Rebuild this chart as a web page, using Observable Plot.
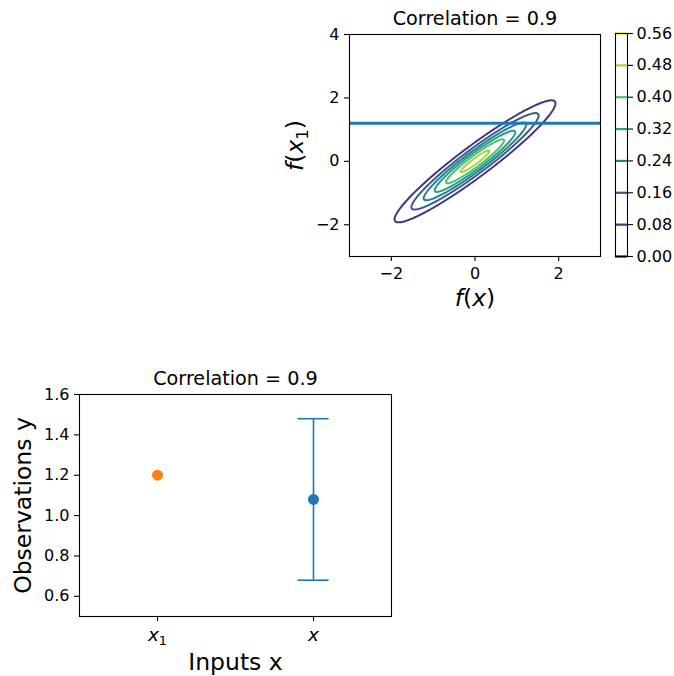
<!DOCTYPE html>
<html><head><meta charset="utf-8">
<script src="https://cdn.jsdelivr.net/npm/d3@7"></script>
<script src="https://cdn.jsdelivr.net/npm/@observablehq/plot@0.6"></script>
<style>
body{margin:0;background:#fff;}
#wrap{position:relative;width:674px;height:676px;font-family:"DejaVu Sans";background:#fff;}
#wrap > svg{position:absolute;margin:0;overflow:visible;}
</style></head><body><div id="wrap"></div>
<script>
// ---- data ----
const titleText = "Correlation = 0.9";
const contourLevels = [0, 0.08, 0.16, 0.24, 0.32, 0.40, 0.48, 0.56];
const fxDomain = [-3, 3];
const fx1Domain = [-3, 4];
const fxTicks = [-2, 0, 2];
const fx1Ticks = [-2, 0, 2, 4];
const densityMean = [0, 0];
const densityStd = [1, 1];
const densityCorr = 0.95;
const observedValue = [1.2];
const inputNames = ["x₁", "x"];
const inputPositions = [0, 1];
const obsMean = [1.2, 1.08];
const obsErr = [0, 0.4];
const obsColor = ["#ff7f0e", "#1f77b4"];
const obsTicks = [0.6, 0.8, 1.0, 1.2, 1.4, 1.6];

const obs = inputPositions.map((p, i) => ({pos: p, mean: obsMean[i], err: obsErr[i], color: obsColor[i]}));

function density(x, y) {
  const [mx, my] = densityMean, [sx, sy] = densityStd, r = densityCorr;
  const u = (x - mx) / sx, v = (y - my) / sy;
  const q = (u * u - 2 * r * u * v + v * v) / (1 - r * r);
  return Math.exp(-q / 2) / (2 * Math.PI * sx * sy * Math.sqrt(1 - r * r));
}

const TICK = 16, MATHTICK = 18.5, TITLE = 19.2, LABEL = 23.5;
const baseStyle = {fontFamily: "DejaVu Sans", fontSize: TICK + "px", color: "black", background: "transparent", overflow: "visible"};
const fmtNum = d => String(d).replace("-", "\u2212");
const wrap = document.getElementById("wrap");
function place(svg, left, top) { svg.style.left = left + "px"; svg.style.top = top + "px"; wrap.appendChild(svg); }

// math-style text: italic letters, upright digits/parens, subscript digits
const mathParts = {
  "f(x)": [["f", "i"], ["(", ""], ["x", "i"], [")", ""]],
  "f(x₁)": [["f", "i"], ["(", ""], ["x", "i"], ["1", "sub"], [")", ""]],
  "x₁": [["x", "i"], ["1", "sub"]],
  "x": [["x", "i"]]
};
function richify(svg) {
  svg.querySelectorAll("text").forEach(t => {
    const parts = mathParts[t.textContent];
    if (!parts) return;
    const fs = parseFloat(getComputedStyle(t).fontSize) || TICK;
    t.textContent = "";
    let shifted = false;
    parts.forEach(([s, kind]) => {
      const ts = document.createElementNS("http://www.w3.org/2000/svg", "tspan");
      ts.textContent = s;
      ts.setAttribute("font-style", kind === "i" ? "italic" : "normal");
      if (kind === "sub") { ts.setAttribute("font-size", (fs * 0.7) + "px"); ts.setAttribute("dy", (fs * 0.22) + "px"); shifted = true; }
      else if (shifted) { ts.setAttribute("dy", (-fs * 0.22) + "px"); shifted = false; }
      t.appendChild(ts);
    });
  });
}

// ---- top: contour ----
const topPlot = Plot.plot({
  width: 340, height: 320, marginLeft: 79, marginRight: 10, marginTop: 34, marginBottom: 64,
  x: {domain: fxDomain}, y: {domain: fx1Domain},
  color: {type: "linear", domain: [contourLevels[0], contourLevels[contourLevels.length - 1]], scheme: "viridis"},
  style: baseStyle,
  marks: [
    Plot.contour({value: density, x1: fxDomain[0], x2: fxDomain[1], y1: fx1Domain[0], y2: fx1Domain[1],
      thresholds: contourLevels.slice(1, -1), stroke: "value", fill: "none", strokeWidth: 2, pixelSize: 1}),
    Plot.ruleY(observedValue, {stroke: "#1f77b4", strokeWidth: 3}),
    Plot.frame({stroke: "black", strokeWidth: 1.1}),
    Plot.axisX({ticks: fxTicks, tickFormat: fmtNum, tickSize: 5, tickPadding: 6, label: null, fontSize: TICK, strokeWidth: 1.1}),
    Plot.axisY({ticks: fx1Ticks, tickFormat: fmtNum, tickSize: 5, tickPadding: 5, label: null, fontSize: TICK, strokeWidth: 1.1}),
    Plot.text([titleText], {frameAnchor: "top", dy: -10, lineAnchor: "bottom", fontSize: TITLE}),
    Plot.text(["f(x)"], {frameAnchor: "bottom", dy: 42, lineAnchor: "middle", fontSize: LABEL}),
    Plot.text(["f(x₁)"], {frameAnchor: "left", dx: -54, rotate: -90, textAnchor: "middle", lineAnchor: "middle", fontSize: LABEL})
  ]
});
place(topPlot, 270, 0);
richify(topPlot);

// ---- colorbar ----
const cbar = Plot.plot({
  width: 74, height: 320, marginLeft: 15, marginRight: 47, marginTop: 33, marginBottom: 64,
  x: {domain: [0, 1], axis: null},
  y: {domain: [contourLevels[0], contourLevels[contourLevels.length - 1]]},
  color: {type: "linear", domain: [contourLevels[0], contourLevels[contourLevels.length - 1]], scheme: "viridis"},
  style: baseStyle,
  marks: [
    Plot.ruleY(contourLevels, {y: d => d, stroke: d => d, strokeWidth: 2.2}),
    Plot.frame({stroke: "black", strokeWidth: 1.1}),
    Plot.axisY({anchor: "right", ticks: contourLevels, tickFormat: d3.format(".2f"), tickSize: 5, tickPadding: 4, label: null, fontSize: TICK, strokeWidth: 1.1})
  ]
});
place(cbar, 600, 0);

// ---- bottom: observations ----
const capHalf = 0.1;
const bars = obs.filter(d => d.err > 0);
const bottomPlot = Plot.plot({
  width: 420, height: 316, marginLeft: 79, marginRight: 29, marginTop: 34, marginBottom: 60,
  x: {domain: [-0.5, 1.5]}, y: {domain: [0.5, 1.6]},
  color: {type: "identity"},
  style: baseStyle,
  marks: [
    Plot.ruleX(bars, {x: "pos", y1: d => d.mean - d.err, y2: d => d.mean + d.err, stroke: "color", strokeWidth: 1.6}),
    Plot.ruleY(bars, {y: d => d.mean - d.err, x1: d => d.pos - capHalf, x2: d => d.pos + capHalf, stroke: "color", strokeWidth: 1.6}),
    Plot.ruleY(bars, {y: d => d.mean + d.err, x1: d => d.pos - capHalf, x2: d => d.pos + capHalf, stroke: "color", strokeWidth: 1.6}),
    Plot.dot(obs, {x: "pos", y: "mean", fill: "color", r: 5.5, stroke: null}),
    Plot.frame({stroke: "black", strokeWidth: 1.1}),
    Plot.axisX({ticks: inputPositions, tickFormat: d => inputNames[inputPositions.indexOf(d)], tickSize: 5, tickPadding: 6, label: null, fontSize: MATHTICK, strokeWidth: 1.1}),
    Plot.axisY({ticks: obsTicks, tickFormat: d3.format(".1f"), tickSize: 5, tickPadding: 5, label: null, fontSize: TICK, strokeWidth: 1.1}),
    Plot.text([titleText], {frameAnchor: "top", dy: -10, lineAnchor: "bottom", fontSize: TITLE}),
    Plot.text(["Inputs x"], {frameAnchor: "bottom", dy: 46, lineAnchor: "middle", fontSize: LABEL}),
    Plot.text(["Observations y"], {frameAnchor: "left", dx: -56, rotate: -90, textAnchor: "middle", lineAnchor: "middle", fontSize: LABEL})
  ]
});
place(bottomPlot, 0, 360);
richify(bottomPlot);
</script></body></html>
